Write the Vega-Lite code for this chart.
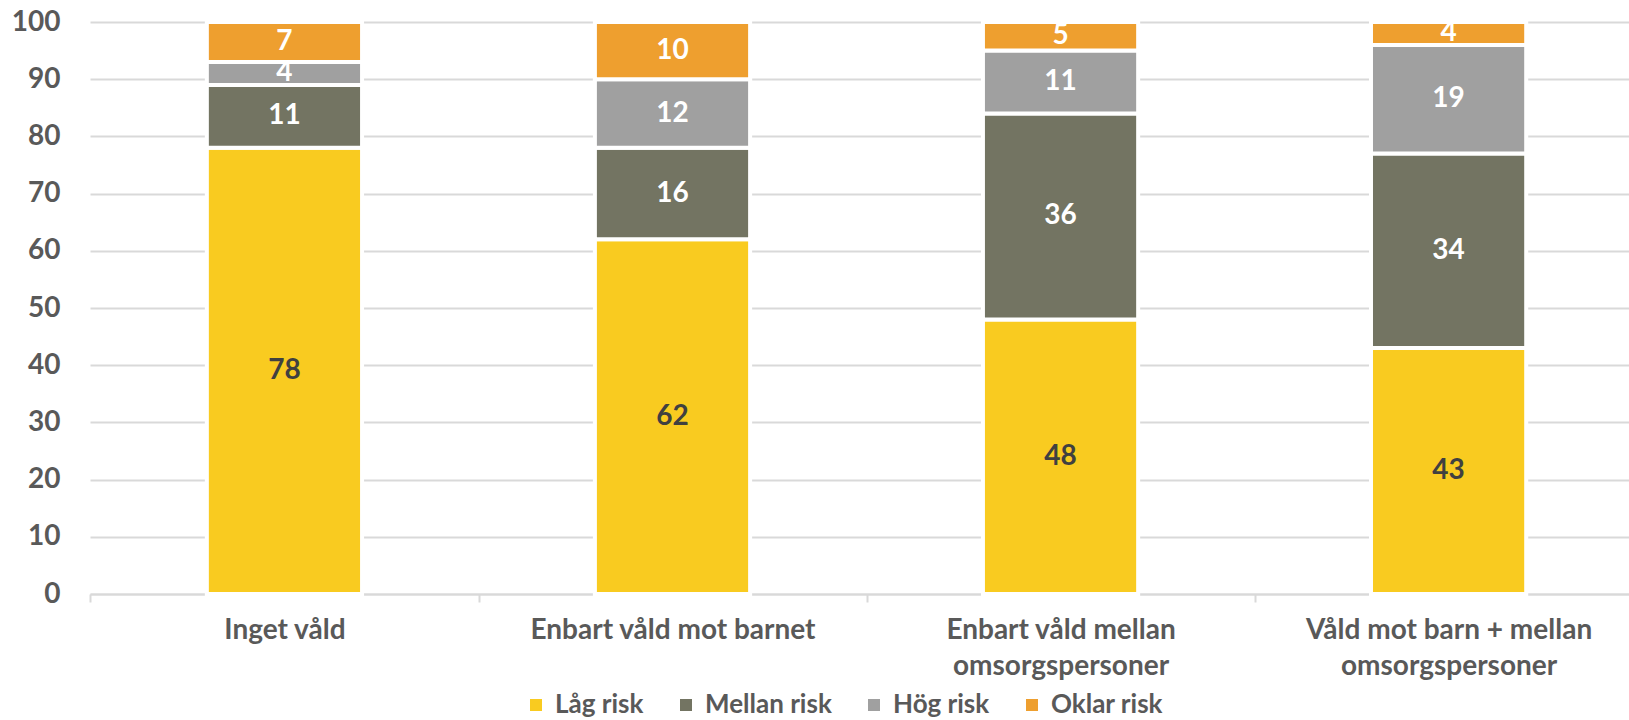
{
  "$schema": "https://vega.github.io/schema/vega-lite/v6.json",
  "width": 1539,
  "height": 572,
  "autosize": "none",
  "padding": {"left": 90, "top": 22, "right": 0, "bottom": 126},
  "background": "white",
  "config": {
    "view": {"stroke": null},
    "font": "Lato"
  },
  "data": {
    "values": [
      {"group": "Inget våld", "risk": "Låg risk", "value": 78},
      {"group": "Inget våld", "risk": "Mellan risk", "value": 11},
      {"group": "Inget våld", "risk": "Hög risk", "value": 4},
      {"group": "Inget våld", "risk": "Oklar risk", "value": 7},
      {"group": "Enbart våld mot barnet", "risk": "Låg risk", "value": 62},
      {"group": "Enbart våld mot barnet", "risk": "Mellan risk", "value": 16},
      {"group": "Enbart våld mot barnet", "risk": "Hög risk", "value": 12},
      {"group": "Enbart våld mot barnet", "risk": "Oklar risk", "value": 10},
      {"group": "Enbart våld mellan omsorgspersoner", "risk": "Låg risk", "value": 48},
      {"group": "Enbart våld mellan omsorgspersoner", "risk": "Mellan risk", "value": 36},
      {"group": "Enbart våld mellan omsorgspersoner", "risk": "Hög risk", "value": 11},
      {"group": "Enbart våld mellan omsorgspersoner", "risk": "Oklar risk", "value": 5},
      {"group": "Våld mot barn + mellan omsorgspersoner", "risk": "Låg risk", "value": 43},
      {"group": "Våld mot barn + mellan omsorgspersoner", "risk": "Mellan risk", "value": 34},
      {"group": "Våld mot barn + mellan omsorgspersoner", "risk": "Hög risk", "value": 19},
      {"group": "Våld mot barn + mellan omsorgspersoner", "risk": "Oklar risk", "value": 4}
    ]
  },
  "transform": [
    {"calculate": "indexof(['Låg risk','Mellan risk','Hög risk','Oklar risk'], datum.risk)", "as": "ord"},
    {"stack": "value", "groupby": ["group"], "sort": [{"field": "ord", "order": "ascending"}], "as": ["v0", "v1"]},
    {"calculate": "(datum.v0 + datum.v1) / 2", "as": "vmid"}
  ],
  "encoding": {
    "x": {
      "field": "group",
      "type": "nominal",
      "sort": null,
      "scale": {"paddingInner": 0.6, "paddingOuter": 0.283, "align": 0.532},
      "axis": {
        "title": null,
        "labelAngle": 0,
        "labelFont": "Lato",
        "labelFontSize": 28,
        "labelFontWeight": "bold",
        "labelColor": "#595959",
        "labelPadding": 14,
        "labelLimit": 600,
        "labelLineHeight": 36,
        "labelExpr": "datum.label == 'Enbart våld mellan omsorgspersoner' ? ['Enbart våld mellan', 'omsorgspersoner'] : datum.label == 'Våld mot barn + mellan omsorgspersoner' ? ['Våld mot barn + mellan', 'omsorgspersoner'] : datum.label",
        "domainColor": "#D9D9D9",
        "domainWidth": 2,
        "tickColor": "#D9D9D9",
        "tickWidth": 2,
        "tickSize": 8,
        "tickOffset": -194,
        "labelOffset": 194,
        "grid": false
      }
    }
  },
  "layer": [
    {
      "mark": {"type": "bar", "stroke": "white", "strokeWidth": 4},
      "encoding": {
        "y": {
          "field": "v0",
          "type": "quantitative",
          "scale": {"domain": [0, 100]},
          "axis": {
            "title": null,
            "values": [0, 10, 20, 30, 40, 50, 60, 70, 80, 90, 100],
            "labelFont": "Lato",
            "labelFontSize": 28,
            "labelFontWeight": "bold",
            "labelColor": "#595959",
            "labelPadding": 30,
            "domain": false,
            "ticks": false,
            "gridColor": "#D9D9D9",
            "gridWidth": 2
          }
        },
        "y2": {"field": "v1"},
        "color": {
          "field": "risk",
          "type": "nominal",
          "scale": {
            "domain": ["Låg risk", "Mellan risk", "Hög risk", "Oklar risk"],
            "range": ["#F9CB20", "#737462", "#A0A0A0", "#EE9F2F"]
          },
          "legend": {
            "title": null,
            "orient": "none",
            "direction": "horizontal",
            "columns": 4,
            "legendX": 433,
            "legendY": 670,
            "symbolType": "square",
            "symbolSize": 144,
            "symbolStrokeWidth": 0,
            "labelFont": "Lato",
            "labelFontSize": 26,
            "labelFontWeight": "bold",
            "labelColor": "#595959",
            "columnPadding": 29,
            "labelOffset": 6
          }
        }
      }
    },
    {
      "mark": {"type": "text", "fontSize": 28, "fontWeight": "bold", "font": "Lato", "baseline": "middle"},
      "encoding": {
        "y": {"field": "vmid", "type": "quantitative"},
        "text": {"field": "value", "type": "quantitative"},
        "color": {
          "condition": {"test": "datum.risk == 'Låg risk'", "value": "#404040"},
          "value": "white"
        }
      }
    }
  ]
}
